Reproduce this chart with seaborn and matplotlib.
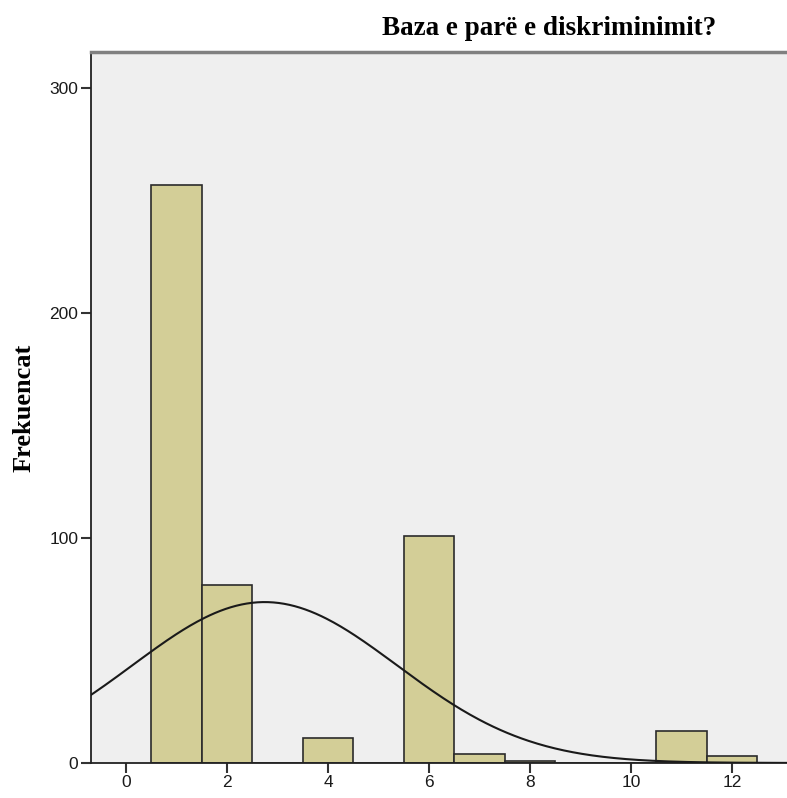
import numpy as np
import pandas as pd
import matplotlib
matplotlib.use("Agg")
import matplotlib.pyplot as plt
import seaborn as sns

# Response codes and how many answers fell on each
codes = [1, 2, 4, 6, 7, 8, 11, 12]
counts = [257, 79, 11, 101, 4, 1, 14, 3]

x_ticks = [0, 2, 4, 6, 8, 10, 12]
y_ticks = [0, 100, 200, 300]

title = "Baza e parë e diskriminimit?"
y_label = "Frekuencat"

df = pd.DataFrame({"kodi": codes, "n": counts})

sns.set_style("white")
plt.rcParams["font.family"] = ["Liberation Sans", "DejaVu Sans"]

fig = plt.figure(figsize=(7.87, 7.98), dpi=100)
ax = fig.add_axes([0.1156, 0.0439, 0.8844, 0.891])
ax.set_facecolor("#efefef")

sns.histplot(data=df, x="kodi", weights="n", discrete=True,
             color="#d3ce97", alpha=1.0, edgecolor="#2b2b2b",
             linewidth=1.2, ax=ax)

# Normal curve fitted to the same frequencies
vals = np.repeat(codes, counts).astype(float)
mu = vals.mean()
sd = vals.std(ddof=1)
xs = np.linspace(-0.8, 13.2, 400)
ys = len(vals) * 1.0 * np.exp(-0.5 * ((xs - mu) / sd) ** 2) / (sd * np.sqrt(2 * np.pi))
ax.plot(xs, ys, color="#1a1a1a", linewidth=1.5, zorder=3)

ax.set_xlim(-0.693, 13.09)
ax.set_ylim(0, 316)
ax.set_xticks(x_ticks)
ax.set_yticks(y_ticks)
ax.tick_params(axis="both", bottom=True, left=True, direction="out",
               length=7.5, width=1.5, color="#333333", labelsize=12.5,
               labelcolor="#1a1a1a", pad=1.5)

for side in ["left", "bottom"]:
    ax.spines[side].set_color("#222222")
    ax.spines[side].set_linewidth(1.3)
ax.spines["right"].set_visible(False)
ax.spines["top"].set_color("#808080")
ax.spines["top"].set_linewidth(2.5)

ax.set_xlabel("")
ax.set_ylabel(y_label, fontsize=19, fontweight="bold", color="black",
              family=["Liberation Serif", "DejaVu Serif"], labelpad=10)

fig.text(0.698, 0.964, title, ha="center", va="center", fontsize=19.5,
         fontweight="bold", color="black",
         family=["Liberation Serif", "DejaVu Serif"])

fig.savefig("out.png", dpi=100)
